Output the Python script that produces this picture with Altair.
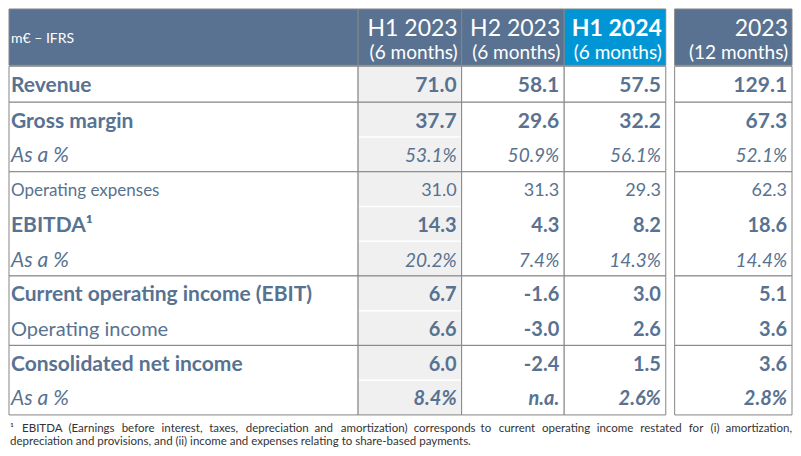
import altair as alt
import pandas as pd

# ---------------- data ----------------
unit_label = "m€ – IFRS"
periods = ["H1 2023", "H2 2023", "H1 2024", "2023"]
durations = ["(6 months)", "(6 months)", "(6 months)", "(12 months)"]
row_labels = ["Revenue", "Gross margin", "As a %", "Operating expenses", "EBITDA¹", "As a %",
              "Current operating income (EBIT)", "Operating income", "Consolidated net income", "As a %"]
h1_2023 = ["71.0", "37.7", "53.1%", "31.0", "14.3", "20.2%", "6.7", "6.6", "6.0", "8.4%"]
h2_2023 = ["58.1", "29.6", "50.9%", "31.3", "4.3", "7.4%", "-1.6", "-3.0", "-2.4", "n.a."]
h1_2024 = ["57.5", "32.2", "56.1%", "29.3", "8.2", "14.3%", "3.0", "2.6", "1.5", "2.6%"]
fy_2023 = ["129.1", "67.3", "52.1%", "62.3", "18.6", "14.4%", "5.1", "3.6", "3.6", "2.8%"]
footnote = [
    "¹ EBITDA (Earnings before interest, taxes, depreciation and amortization) corresponds to current operating income restated for (i) amortization,",
    "depreciation and provisions, and (ii) income and expenses relating to share-based payments.",
]

# ---------------- layout & styles ----------------
FONT = "Lato"
SLATE = "#597291"
BLUE = "#0096d6"
TXT = "#587291"
GRID = "#858585"
SHADE = "#f0f0f0"
COLS = [(3, 357), (357, 462), (462, 566), (566, 669), (678, 797)]
HEADER_Y = (3, 61)
ROW_EDGES = [62, 99, 134.8, 170.6, 206.3, 242.1, 277.9, 313.7, 349.4, 385.2, 421]
GROUPS = [(0, 1), (1, 3), (3, 6), (6, 8), (8, 10)]
HEADER_FILL = [SLATE, SLATE, SLATE, BLUE, SLATE]
HEADER_BOLD = [False, False, True, False]
# (weight, style, size)
LABEL_STYLE = [("bold", "normal", 21), ("bold", "normal", 21), ("normal", "italic", 21),
               ("normal", "normal", 17), ("bold", "normal", 21), ("normal", "italic", 21),
               ("bold", "normal", 21), ("normal", "normal", 20), ("bold", "normal", 21),
               ("normal", "italic", 21)]
VALUE_STYLE = [("bold", "normal", 21), ("bold", "normal", 21), ("normal", "italic", 19),
               ("normal", "normal", 18), ("bold", "normal", 20), ("normal", "italic", 19),
               ("bold", "normal", 20), ("bold", "normal", 20), ("bold", "normal", 20),
               ("bold", "italic", 20)]
FN_SIZE = 11.5
FN_LEFT, FN_RIGHT = 4, 797
# rough Lato advance widths (em) used to justify the first footnote line
EM = {c: 0.53 for c in "abdeghnopqu"}
EM.update({"c": 0.46, "f": 0.31, "i": 0.23, "j": 0.23, "k": 0.48, "l": 0.23, "m": 0.83,
           "r": 0.35, "s": 0.41, "t": 0.33, "v": 0.49, "w": 0.76, "x": 0.48, "y": 0.49,
           "z": 0.44, " ": 0.19, "(": 0.30, ")": 0.30, ",": 0.22, ".": 0.22, "-": 0.33,
           "¹": 0.33, "E": 0.55, "B": 0.62, "I": 0.27, "T": 0.55, "D": 0.70, "A": 0.66})


def text_width(s):
    return sum(EM.get(ch, 0.6) for ch in s) * FN_SIZE


XS = alt.Scale(domain=[3, 797], nice=False, zero=False)
YS = alt.Scale(domain=[3, 453], nice=False, zero=False, reverse=True)


def enc_rect(ch):
    return ch.encode(
        x=alt.X("x:Q", scale=XS, axis=None), x2="x2:Q",
        y=alt.Y("y:Q", scale=YS, axis=None), y2="y2:Q",
        fill=alt.Fill("fill:N", scale=None),
    )


def text_layer(df, weight, style, size, align, color, baseline="middle"):
    return alt.Chart(df).mark_text(
        align=align, baseline=baseline, font=FONT, fontWeight=weight,
        fontStyle=style, fontSize=size, color=color,
    ).encode(
        x=alt.X("x:Q", scale=XS, axis=None),
        y=alt.Y("y:Q", scale=YS, axis=None),
        text="text:N",
    )


layers = []

# header cells
hdr = pd.DataFrame({
    "x": [c[0] for c in COLS], "x2": [c[1] for c in COLS],
    "y": [HEADER_Y[0]] * 5, "y2": [HEADER_Y[1]] * 5, "fill": HEADER_FILL,
})
layers.append(enc_rect(alt.Chart(hdr).mark_rect(stroke=GRID, strokeWidth=1)))

# body group cells
recs = []
for g0, g1 in GROUPS:
    for ci, (a, b) in enumerate(COLS):
        recs.append({"x": a, "x2": b, "y": ROW_EDGES[g0], "y2": ROW_EDGES[g1],
                     "fill": SHADE if ci == 1 else "white"})
body = pd.DataFrame(recs)
layers.append(enc_rect(alt.Chart(body).mark_rect(stroke=GRID, strokeWidth=1)))

# faint white separators inside shaded column
seps = []
for g0, g1 in GROUPS:
    for r in range(g0 + 1, g1):
        seps.append({"x": COLS[1][0] + 1, "x2": COLS[1][1] - 1, "y": ROW_EDGES[r]})
sep_df = pd.DataFrame(seps)
layers.append(alt.Chart(sep_df).mark_rule(color="white", strokeWidth=1.5).encode(
    x=alt.X("x:Q", scale=XS, axis=None), x2="x2:Q",
    y=alt.Y("y:Q", scale=YS, axis=None)))

# header texts
layers.append(text_layer(pd.DataFrame({"x": [5], "y": [38], "text": [unit_label]}),
                         "normal", "normal", 14, "left", "white", "alphabetic"))
for i, (p, d) in enumerate(zip(periods, durations)):
    xr = COLS[i + 1][1] - 4
    layers.append(text_layer(pd.DataFrame({"x": [xr], "y": [31], "text": [p]}),
                             "bold" if HEADER_BOLD[i] else "normal", "normal", 23,
                             "right", "white", "alphabetic"))
    layers.append(text_layer(pd.DataFrame({"x": [xr], "y": [54], "text": [d]}),
                             "normal", "normal", 19, "right", "white", "alphabetic"))

# row labels & values
centers = [(ROW_EDGES[i] + ROW_EDGES[i + 1]) / 2 + 2 for i in range(len(row_labels))]
lab_rows, val_rows = [], []
series = [h1_2023, h2_2023, h1_2024, fy_2023]
for r, lab in enumerate(row_labels):
    w, s, z = LABEL_STYLE[r]
    lab_rows.append({"x": 5, "y": centers[r], "text": lab, "w": w, "s": s, "z": z})
    w, s, z = VALUE_STYLE[r]
    for ci, ser in enumerate(series):
        val_rows.append({"x": COLS[ci + 1][1] - 5, "y": centers[r], "text": ser[r],
                         "w": w, "s": s, "z": z})
lab_df = pd.DataFrame(lab_rows)
val_df = pd.DataFrame(val_rows)
for (w, s, z), sub in lab_df.groupby(["w", "s", "z"]):
    layers.append(text_layer(sub[["x", "y", "text"]], w, s, int(z), "left", TXT))
for (w, s, z), sub in val_df.groupby(["w", "s", "z"]):
    layers.append(text_layer(sub[["x", "y", "text"]], w, s, int(z), "right", TXT))

# footnote: first line justified word by word, second line left aligned
words = footnote[0].split(" ")
natural = sum(text_width(wd) for wd in words)
gap = (FN_RIGHT - FN_LEFT - natural) / (len(words) - 1)
fn_rows = []
cur = FN_LEFT
for wd in words[:-1]:
    fn_rows.append({"x": cur, "y": 435, "text": wd})
    cur += text_width(wd) + gap
fn_main = pd.DataFrame(fn_rows)
fn_last = pd.DataFrame([{"x": FN_RIGHT, "y": 435, "text": words[-1]}])
layers.append(text_layer(fn_main, "normal", "normal", FN_SIZE, "left", "#333333"))
layers.append(text_layer(fn_last, "normal", "normal", FN_SIZE, "right", "#333333"))
layers.append(text_layer(pd.DataFrame({"x": [FN_LEFT], "y": [449], "text": [footnote[1]]}),
                         "normal", "normal", FN_SIZE, "left", "#333333"))

chart = alt.layer(*layers).properties(
    width=785, height=440, padding=0,
    autosize=alt.AutoSizeParams(type="fit", contains="padding"),
).configure_view(stroke=None)

chart.save("out.html", embed_options={"renderer": "svg", "actions": False})
